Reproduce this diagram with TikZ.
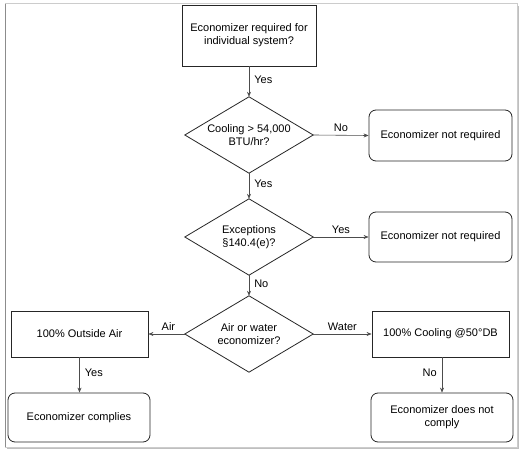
\documentclass[tikz,border=0pt]{standalone}
\usepackage{fontspec}
\setmainfont{Liberation Sans}
\usetikzlibrary{shapes.geometric,arrows.meta}
\begin{document}
\begin{tikzpicture}[x=1pt,y=-1pt,
  every node/.style={font=\fontsize{11}{13.3}\selectfont},
  sqbox/.style={draw=black!85,line width=0.8pt,rectangle,inner sep=0pt,align=center},
  rbox/.style={draw=black!85,line width=0.8pt,rectangle,rounded corners=7pt,inner sep=0pt,align=center},
  dia/.style={rectangle,inner sep=0pt,minimum width=128pt,minimum height=76pt,align=center},
  diaedge/.style={draw=black!85,line width=0.8pt,line join=miter},
  conn/.style={draw=black!70,line width=0.6pt,-{Stealth[length=5pt,width=4pt]}},
  lbl/.style={font=\fontsize{11}{13}\selectfont,inner sep=1pt}
]
\useasboundingbox (0,0) rectangle (525,457);
% frame with shadow
\fill[black!25] (7,6) rectangle (519,449);
\fill[white] (5,3) rectangle (517,447);
\draw[black!20,line width=0.6pt] (5,3) rectangle (517,447);
\draw[black!45,line width=1.2pt] (5.5,4) -- (5.5,447);

\node[sqbox,minimum width=134pt,minimum height=61pt] (top) at (249,35.5) {Economizer required for\\individual system?};
\node[dia] (d1) at (249,135) {Cooling > 54,000\\BTU/hr?};
\node[rbox,minimum width=143pt,minimum height=51pt] (r1) at (440.5,135.5) {Economizer not required};
\node[dia] (d2) at (249,237) {Exceptions\\§140.4(e)?};
\node[rbox,minimum width=143pt,minimum height=50pt] (r2) at (440.5,237) {Economizer not required};
\node[dia] (d3) at (249,334) {Air or water\\economizer?};
\node[sqbox,minimum width=137pt,minimum height=46pt] (la) at (79.5,334) {100\% Outside Air};
\node[sqbox,minimum width=137pt,minimum height=46pt] (rc) at (440.5,334) {100\% Cooling @50°DB};
\node[rbox,minimum width=142pt,minimum height=49pt] (bl) at (79,417.5) {Economizer complies};
\node[rbox,minimum width=142pt,minimum height=49pt] (br) at (442,417.5) {Economizer does not\\comply};

\foreach \d in {d1,d2,d3}
  \draw[diaedge] (\d.north) -- (\d.east) -- (\d.south) -- (\d.west) -- cycle;

\draw[conn] (top.south) -- node[lbl,right,pos=0.45,xshift=4pt] {Yes} (d1.north);
\draw[conn] (d1.east) -- node[lbl,above,pos=0.5,yshift=2pt] {No} (r1.west);
\draw[conn] (d1.south) -- node[lbl,right,pos=0.4,xshift=4pt] {Yes} (d2.north);
\draw[conn] (d2.east) -- node[lbl,above,pos=0.5,yshift=2pt] {Yes} (r2.west);
\draw[conn] (d2.south) -- node[lbl,right,pos=0.4,xshift=4pt] {No} (d3.north);
\draw[conn] (d3.west) -- node[lbl,above,pos=0.45,yshift=2pt] {Air} (la.east);
\draw[conn] (d3.east) -- node[lbl,above,pos=0.5,yshift=2pt] {Water} (rc.west);
\draw[conn] (la.south) -- node[lbl,right,pos=0.45,xshift=4pt] {Yes} (la.south |- bl.north);
\draw[conn] (rc.south -| br.north) -- node[lbl,left,pos=0.45,xshift=-4pt] {No} (br.north);
\end{tikzpicture}
\end{document}
